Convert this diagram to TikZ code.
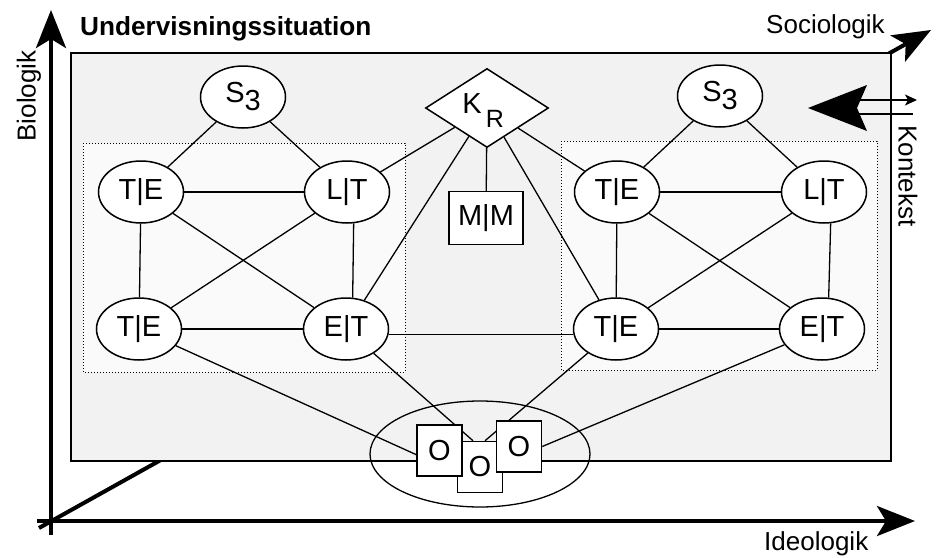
\documentclass[tikz,border=0pt]{standalone}
\usepackage{fontspec}
\setmainfont{Liberation Sans}
\usetikzlibrary{arrows.meta,shapes.geometric,calc}
\definecolor{boxgray}{HTML}{F2F2F2}
\definecolor{dotgray}{HTML}{FAFAFA}
\begin{document}
\begin{tikzpicture}[x=1pt,y=-1pt,
  ell/.style={ellipse, draw, fill=white, line width=1.5pt, minimum width=85pt, minimum height=62pt, inner sep=0pt, font=\fontsize{29}{32}\selectfont},
  con/.style={line width=1.3pt},
  obox/.style={draw, fill=white, line width=1.5pt, minimum width=45pt, minimum height=51pt, inner sep=0pt, font=\fontsize{29}{32}\selectfont},
  axis/.style={line width=4pt, -{Stealth[length=38pt,width=30pt,inset=9pt]}},
  lab/.style={font=\fontsize{26}{28}\selectfont, inner sep=0pt}]
\useasboundingbox (0,0) rectangle (937,557);
% axes
\coordinate (dstart) at (39,528);
\coordinate (dend) at (931,30);
\draw[axis] (dstart) -- (dend);
% main box
\draw[line width=2pt, fill=boxgray] (71,53) rectangle (891,461);
\coordinate (vstart) at (51,535);
\coordinate (vend) at (51,10);
\draw[axis] (vstart) -- (vend);
\coordinate (hstart) at (37,521);
\coordinate (hend) at (915,521);
\draw[axis] (hstart) -- (hend);
% dotted groups
\draw[dotted, line width=1pt, fill=dotgray] (83,143) rectangle (405,372);
\draw[dotted, line width=1pt, fill=dotgray] (561,141) rectangle (877,370);
% labels
\node[font=\bfseries\fontsize{26.2}{28}\selectfont, anchor=base west, inner sep=0pt] (title) at (80,35) {Undervisningssituation};
\node[lab, anchor=base west] (soc) at (766,33) {Sociologik};
\node[lab, anchor=base west] (ideo) at (764,550) {Ideologik};
\node[lab, rotate=90] (bio) at (29,96) {Biologik};
\node[lab, rotate=-90] (kon) at (908,176) {Kontekst};
% kontekst arrows
\coordinate (ka1) at (857,100);
\coordinate (ka2) at (917,100);
\coordinate (kb1) at (857,114);
\coordinate (kb2) at (913,114);
\draw[line width=1.3pt, -{Stealth[length=12pt,width=11pt,inset=3pt]}] (ka1) -- (ka2);
\draw[line width=1.3pt] (kb1) -- (kb2);
\fill (808,108) -- (867,85) -- (857,108) -- (867,131) -- cycle;
% left group
\node[ell] (lS) at (243,97) {S\raisebox{-8pt}{3}};
\node[ell] (lTEt) at (141,192) {T|E};
\node[ell] (lLT) at (347,192) {L|T};
\node[ell] (lTEb) at (139,329) {T|E};
\node[ell] (lET) at (346,329) {E|T};
% right group
\node[ell] (rS) at (720,96) {S\raisebox{-8pt}{3}};
\node[ell] (rTEt) at (617,192) {T|E};
\node[ell] (rLT) at (824,192) {L|T};
\node[ell] (rTEb) at (616,329) {T|E};
\node[ell] (rET) at (822,329) {E|T};
% centre
\node[diamond, draw, fill=white, line width=1.5pt, minimum width=123pt, minimum height=79pt, inner sep=0pt] (KR) at (487,108) {};
\node[font=\fontsize{29}{32}\selectfont, inner sep=0pt] (Ktxt) at (472,104) {K};
\node[font=\fontsize{25}{28}\selectfont, inner sep=0pt] (Rtxt) at (495,119) {R};
\node[draw, fill=white, line width=1.5pt, minimum width=74pt, minimum height=53pt, inner sep=0pt, font=\fontsize{29}{32}\selectfont] (MM) at (486,218) {M|M};
% big ellipse
\draw[line width=1.3pt] (480,454) ellipse [x radius=110, y radius=53];
% O boxes (positions)
\coordinate (b1c) at (439.5,450.5);
\coordinate (b1w) at (417,455);
\coordinate (b2c) at (480,467);
\coordinate (b3c) at (519,446.5);
% connectors
\begin{scope}[con]
\draw (lS) -- (lTEt); \draw (lS) -- (lLT);
\draw (lTEt) -- (lLT); \draw (lTEt) -- (lTEb);
\draw (lLT.-78) -- (lET.78);
\draw (lTEt) -- (lET); \draw (lLT) -- (lTEb);
\draw (lTEb) -- (lET);
\draw (rS) -- (rTEt); \draw (rS) -- (rLT);
\draw (rTEt) -- (rLT); \draw (rTEt) -- (rTEb);
\draw (rLT.-78) -- (rET.78);
\draw (rTEt) -- (rET); \draw (rLT) -- (rTEb);
\draw (rTEb) -- (rET);
\draw (KR) -- (lLT); \draw (KR) -- (lET);
\draw (KR) -- (MM);
\draw (KR) -- (rTEt); \draw (KR) -- (rTEb);
\draw (lET.-7) -- (rTEb.187);
\end{scope}
\node[obox] (b2) at (b2c) {O};
\draw[con] (lTEb) -- (b1w);
\draw[con] (lET) -- ([xshift=-7pt]b2.north);
\draw[con] (rTEb) -- ([xshift=5pt]b2.north);
\node[obox] (b1) at (b1c) {O};
\node[obox] (b3) at (b3c) {O};
\draw[con] (rET) -- (b3.east);
\end{tikzpicture}
\end{document}
